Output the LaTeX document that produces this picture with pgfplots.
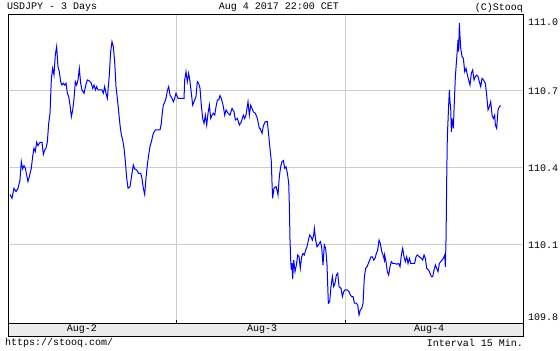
\documentclass[border=0pt]{standalone}
\usepackage{fontspec}
\setmainfont{Liberation Mono}
\usepackage{pgfplots}
\pgfplotsset{compat=1.18}
\definecolor{gridgray}{RGB}{204,204,204}
\definecolor{stripgray}{RGB}{235,235,235}
\begin{document}
\begin{tikzpicture}[x=1bp,y=1bp,font=\fontsize{10bp}{12bp}\selectfont]
\fill[white] (-8,-27) rectangle (552,323);
\begin{axis}[
  at={(0,0)}, anchor=south west,
  scale only axis, width=515bp, height=308bp,
  xmin=0, xmax=73.15, ymin=109.796, ymax=110.996,
  axis line style={black, line width=1bp},
  xtick={24,48}, xticklabels={},
  ytick={110.1,110.4,110.7}, yticklabels={110.1,110.4,110.7},
  yticklabel pos=right,
  yticklabel style={font=\fontsize{10bp}{12bp}\selectfont, inner sep=0pt, anchor=west, xshift=5bp},
  ytick style={draw=none},
  xtick style={black, line width=1bp},
  major tick length=3bp, tick align=inside,
  xtick pos=bottom,
  grid=major, major grid style={gridgray, line width=1bp},
]
\addplot[color={rgb,255:red,0;green,0;blue,255}, line width=1bp, line join=miter] coordinates {
(0.28,110.297)(0.57,110.282)(0.85,110.321)(1.14,110.308)(1.42,110.321)(1.70,110.353)(1.89,110.425)(2.08,110.396)(2.27,110.409)(2.46,110.399)(2.65,110.373)(2.84,110.347)(3.03,110.366)(3.31,110.399)(3.50,110.444)(3.69,110.477)(3.88,110.464)(4.07,110.500)(4.26,110.487)(4.55,110.500)(4.83,110.500)(5.02,110.453)(5.21,110.470)(5.40,110.477)(5.59,110.502)(5.78,110.574)(5.97,110.613)(6.16,110.749)(6.34,110.788)(6.53,110.762)(6.72,110.840)(6.91,110.873)(7.10,110.795)(7.29,110.775)(7.48,110.736)(7.67,110.723)(7.86,110.730)(8.05,110.723)(8.24,110.730)(8.43,110.691)(8.62,110.678)(8.81,110.645)(9.00,110.600)(9.19,110.626)(9.38,110.671)(9.56,110.736)(9.75,110.723)(9.94,110.743)(10.13,110.788)(10.32,110.730)(10.51,110.704)(10.80,110.691)(11.08,110.726)(11.27,110.743)(11.55,110.739)(11.84,110.730)(12.03,110.710)(12.22,110.723)(12.41,110.704)(12.59,110.717)(12.78,110.704)(13.07,110.704)(13.35,110.704)(13.54,110.691)(13.73,110.717)(13.92,110.691)(14.11,110.671)(14.39,110.762)(14.58,110.853)(14.77,110.892)(14.96,110.873)(15.15,110.814)(15.34,110.717)(15.53,110.671)(15.72,110.619)(15.91,110.567)(16.10,110.528)(16.29,110.509)(16.48,110.477)(16.67,110.425)(16.86,110.360)(17.05,110.321)
(17.33,110.327)(17.61,110.379)(17.80,110.412)(17.99,110.396)(18.28,110.392)(18.56,110.379)(18.85,110.379)(19.03,110.360)(19.22,110.321)(19.41,110.297)(19.60,110.360)(19.79,110.412)(19.98,110.451)(20.17,110.483)(20.36,110.502)(20.64,110.535)(20.93,110.548)(21.21,110.548)(21.59,110.548)(21.78,110.574)(21.88,110.606)(22.06,110.645)(22.25,110.656)(22.44,110.671)(22.63,110.700)(22.82,110.717)(23.01,110.684)(23.30,110.671)(23.49,110.658)(23.67,110.671)(23.86,110.691)(24.15,110.671)(24.43,110.671)(24.72,110.671)(25.00,110.671)(25.10,110.743)(25.28,110.775)(25.47,110.736)(25.66,110.769)(25.85,110.736)(26.04,110.691)(26.23,110.645)(26.42,110.658)(26.70,110.678)(26.89,110.736)(27.08,110.730)(27.27,110.710)(27.46,110.645)(27.65,110.593)(27.84,110.574)(28.03,110.606)(28.22,110.567)(28.41,110.613)(28.60,110.645)(28.79,110.593)(28.98,110.606)(29.17,110.613)(29.36,110.606)(29.55,110.639)(29.74,110.665)(29.93,110.665)(30.11,110.682)(30.30,110.671)(30.59,110.639)(30.78,110.606)(30.97,110.626)(31.25,110.613)(31.53,110.606)(31.82,110.632)(32.10,110.619)(32.29,110.587)(32.58,110.593)(32.86,110.567)(33.14,110.580)(33.43,110.606)(33.62,110.593)(33.81,110.606)(34.09,110.658)(34.28,110.606)(34.47,110.645)(34.66,110.632)(34.85,110.619)(35.13,110.613)(35.42,110.593)(35.70,110.554)
(35.79,110.555)(36.08,110.535)(36.27,110.564)(36.55,110.581)(36.84,110.581)(37.02,110.529)(37.21,110.477)(37.40,110.425)(37.50,110.341)(37.59,110.282)(37.78,110.321)(38.07,110.328)(38.26,110.308)(38.35,110.295)(38.54,110.367)(38.73,110.405)(38.92,110.425)(39.11,110.429)(39.30,110.399)(39.49,110.405)(39.68,110.380)(39.87,110.341)(39.96,110.256)(40.05,110.126)(40.15,110.042)(40.24,110.003)(40.34,110.029)(40.43,109.967)
(40.58,110.041)(40.77,109.996)(40.96,110.022)(41.15,110.061)(41.34,110.054)(41.52,110.009)(41.71,110.054)(41.90,110.067)(42.09,110.061)(42.28,110.080)(42.47,110.093)(42.66,110.119)(42.85,110.139)(43.04,110.132)(43.23,110.119)(43.42,110.139)(43.51,110.165)(43.70,110.119)(43.89,110.093)(44.08,110.100)(44.37,110.113)(44.55,110.093)(44.74,110.022)(44.93,110.100)(45.12,110.087)(45.31,110.022)(45.50,109.873)(45.69,109.879)(45.88,109.938)(46.07,109.977)(46.26,109.938)(46.45,109.951)(46.64,109.983)(46.83,109.990)(47.02,109.938)(47.30,109.931)(47.49,109.899)(47.68,109.918)(47.87,109.925)(48.15,109.925)(48.44,109.918)(48.63,109.905)(48.82,109.899)(49.01,109.899)(49.20,109.873)(49.48,109.873)(49.67,109.866)(49.86,109.827)(50.05,109.847)(50.24,109.853)(50.43,109.873)(50.62,109.977)(50.80,110.009)(50.99,110.015)(51.18,110.028)(51.37,110.041)(51.56,110.054)(51.75,110.054)(51.94,110.041)(52.13,110.048)(52.32,110.067)(52.51,110.080)(52.70,110.119)(52.89,110.106)(53.08,110.074)(53.27,110.061)(53.46,110.041)
(53.50,110.061)(53.69,110.035)(53.88,109.996)(54.07,109.983)(54.26,110.015)(54.45,110.035)(54.64,110.028)(54.92,110.028)(55.21,110.025)(55.49,110.028)(55.68,110.015)(55.87,110.061)(56.06,110.087)(56.25,110.054)(56.44,110.035)(56.63,110.054)(56.82,110.028)(57.01,110.048)(57.20,110.028)(57.48,110.028)(57.76,110.028)(57.95,110.054)(58.14,110.061)(58.43,110.054)(58.71,110.048)(58.90,110.041)(59.09,110.061)(59.28,110.048)(59.47,110.009)(59.75,110.002)(59.94,109.990)(60.13,109.977)(60.32,109.977)(60.51,110.002)(60.70,110.022)(60.89,110.009)(61.08,109.996)(61.27,110.028)(61.46,110.035)(61.65,110.041)(61.84,110.048)(62.03,110.061)(62.12,110.015)(62.22,110.126)(62.31,110.353)(62.40,110.522)(62.59,110.645)(62.69,110.704)(62.78,110.658)(62.88,110.632)(62.97,110.541)(63.07,110.593)(63.26,110.554)(63.35,110.626)(63.54,110.756)(63.73,110.827)(63.92,110.899)(64.01,110.853)(64.11,110.964)(64.20,110.912)(64.30,110.866)(64.49,110.834)(64.68,110.827)(64.87,110.775)(65.06,110.788)(65.25,110.762)(65.43,110.743)(65.62,110.723)(65.81,110.769)(66.00,110.782)(66.19,110.743)(66.38,110.756)(66.57,110.762)(66.76,110.756)(66.95,110.736)(67.14,110.717)(67.33,110.749)(67.52,110.743)(67.80,110.730)(67.99,110.684)(68.18,110.626)(68.37,110.639)(68.56,110.658)(68.75,110.606)(68.94,110.593)(69.13,110.606)(69.22,110.567)(69.41,110.554)(69.60,110.626)(69.79,110.639)(69.98,110.643)
};
\end{axis}
% right-edge extreme labels
\node[anchor=west, inner sep=0pt] at (520,301) {111.0};
\node[anchor=west, inner sep=0pt] at (520,6) {109.8};
% bottom strip
\fill[stripgray] (0,-13) rectangle (515,0);
\draw[black, line width=1bp] (0,0) -- (0,-13) -- (515,-13) -- (515,0);
\draw[black, line width=1bp] (0,0) -- (515,0);
\node[inner sep=0pt] at (74,-6.5) {Aug-2};
\node[inner sep=0pt] at (254,-6.5) {Aug-3};
\node[inner sep=0pt] at (421,-6.5) {Aug-4};
% header
\node[anchor=west, inner sep=0pt] at (-1,315.5) {USDJPY - 3 Days};
\node[inner sep=0pt] at (271,315.5) {Aug 4 2017 22:00 CET};
\node[anchor=east, inner sep=0pt] at (515,315.5) {(C)Stooq};
% footer
\node[anchor=west, inner sep=0pt] at (-3,-20) {https://stooq.com/};
\node[anchor=east, inner sep=0pt] at (515,-20) {Interval 15 Min.};
\pgfresetboundingbox
\useasboundingbox (-8,-27) rectangle (552,323);
\end{tikzpicture}
\end{document}
